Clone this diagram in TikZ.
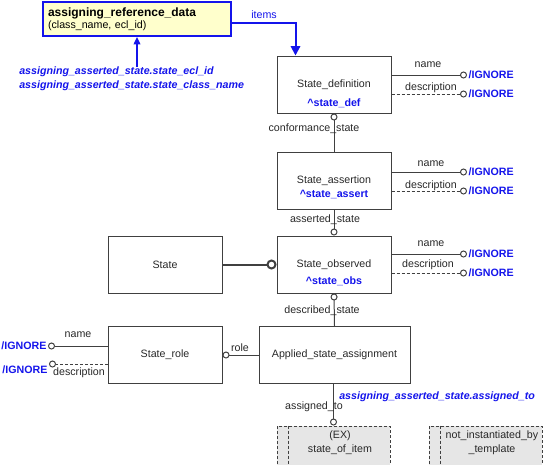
\documentclass[tikz,border=0pt]{standalone}
\usepackage{fontspec}
\setmainfont{Liberation Sans}
\usetikzlibrary{arrows.meta, positioning}
\definecolor{refblue}{RGB}{20,20,235}
\definecolor{refyellow}{RGB}{255,255,204}
\definecolor{boxgray}{RGB}{230,230,230}
\definecolor{linegray}{RGB}{64,64,64}
\definecolor{txtgray}{RGB}{40,40,40}

\begin{document}
\begin{tikzpicture}[x=0.75pt, y=-0.75pt,
  font=\fontsize{8}{9.5}\selectfont,
  ent/.style={draw=linegray, line width=0.75pt, inner sep=0pt, minimum width=85.5pt, minimum height=42.75pt, text=txtgray},
  refbox/.style={draw=refblue, line width=1.5pt, fill=refyellow, inner sep=0pt, minimum width=141pt, minimum height=25.5pt},
  tmpl/.style={draw=linegray, line width=0.75pt, dash pattern=on 2.25pt off 1.5pt, fill=boxgray, inner sep=0pt, minimum width=84.75pt, minimum height=33pt},
  sub/.style={text=refblue, font=\fontsize{8}{9.5}\selectfont\bfseries, inner sep=0pt},
  ign/.style={text=refblue, font=\fontsize{8}{9.5}\selectfont\bfseries, inner sep=1pt},
  attr/.style={text=refblue, font=\fontsize{8}{10.5}\selectfont\bfseries\itshape, inner sep=0pt},
  lbl/.style={text=txtgray, inner sep=0pt},
  rel/.style={draw=linegray, line width=0.75pt},
  opt/.style={rel, dash pattern=on 2.25pt off 1.5pt},
  ring/.style={-{Circle[open, length=5.25pt]}},
  ringback/.style={{Circle[open, length=5.25pt]}-},
  blueline/.style={draw=refblue, line width=1.5pt, -{Triangle[length=7pt, width=7pt]}}]
\clip (0,0) rectangle (560,464);

% reference data
\node[refbox, text width=133.5pt, align=left] (ard) at (137,19)
  {{\fontsize{9}{9}\selectfont\bfseries assigning\_reference\_data}\\[-0.5pt](class\_name, ecl\_id)};
\node[attr, anchor=west, align=left] (attrs) at (19,79)
  {assigning\_asserted\_state.state\_ecl\_id\\assigning\_asserted\_state.state\_class\_name};

% entities
\node[ent] (sdef) at (334,84.5) {State\_definition};
\node[sub] (sdefsub) at (334,103) {\textasciicircum state\_def};
\node[ent] (sassert) at (334,181) {State\_assertion};
\node[sub] (sassertsub) at (334,194) {\textasciicircum state\_assert};
\node[ent] (sobs) at (334,264.5) {State\_observed};
\node[sub] (sobssub) at (334,281) {\textasciicircum state\_obs};
\node[ent] (state) at (165,264.5) {State};
\node[ent] (srole) at (165,355) {State\_role};
\node[ent, minimum width=113.25pt] (asa) at (334.5,355) {Applied\_state\_assignment};

% templates
\node[tmpl] (soi) at (333.5,448) {};
\node[tmpl] (nit) at (485.5,448) {};
\draw[opt] ([xshift=9pt]soi.north west) -- ([xshift=9pt]soi.south west);
\draw[opt] ([xshift=9pt]nit.north west) -- ([xshift=9pt]nit.south west);
\node[lbl, align=center, font=\fontsize{8}{10.5}\selectfont] (soitext) at (340,443) {(EX)\\state\_of\_item};
\node[lbl, align=center, font=\fontsize{8}{10.5}\selectfont] (nittext) at (492,443) {not\_instantiated\_by\\\_template};

% ignored attributes
\node[ign, anchor=west] (i1) at (467,75) {/IGNORE};
\node[ign, anchor=west] (i2) at (467,94) {/IGNORE};
\node[ign, anchor=west] (i3) at (467,172) {/IGNORE};
\node[ign, anchor=west] (i4) at (467,191) {/IGNORE};
\node[ign, anchor=west] (i5) at (467,254) {/IGNORE};
\node[ign, anchor=west] (i6) at (467,273) {/IGNORE};
\node[ign, anchor=east] (j1) at (48,346) {/IGNORE};
\node[ign, anchor=north east] (j2) at (49,364) {/IGNORE};

\draw[rel, ring] (sdef.east |- i1.west) -- (i1.west);
\draw[opt, ring] (sdef.east |- i2.west) -- (i2.west);
\draw[rel, ring] (sassert.east |- i3.west) -- (i3.west);
\draw[opt, ring] (sassert.east |- i4.west) -- (i4.west);
\draw[rel, ring] (sobs.east |- i5.west) -- (i5.west);
\draw[opt, ring] (sobs.east |- i6.west) -- (i6.west);
\draw[rel, ring] (srole.west |- j1.east) -- (j1.east);
\draw[opt, ring] (srole.west |- j2.north east) -- (j2.north east);

\node[lbl] (n1) at (428,65) {name};
\node[lbl] (d1) at (431,88) {description};
\node[lbl] (n2) at (431,164) {name};
\node[lbl] (d2) at (431,186) {description};
\node[lbl] (n3) at (431,244) {name};
\node[lbl] (d3) at (428,265) {description};
\node[lbl] (n4) at (78,335) {name};
\node[lbl] (d4) at (79,373) {description};

% relationships
\draw[rel, ringback] (sdef.south) -- (sassert.north);
\draw[rel, ring] (sassert.south) -- (sobs.north);
\draw[rel, ringback] (sobs.south) -- (asa.north);
\draw[rel, ringback] (srole.east) -- (asa.west);
\draw[rel, ring] (asa.south -| soi.north) -- (soi.north);
\draw[rel, line width=1.5pt, -{Circle[open, length=7.5pt]}] (state.east) -- (sobs.west);
\node[lbl] (conf) at (314,129) {conformance\_state};
\node[lbl] (asst) at (325,220) {asserted\_state};
\node[lbl] (desc) at (322,311) {described\_state};
\node[lbl] (role) at (240,348) {role};
\node[lbl] (asgn) at (314,407) {assigned\_to};
\node[attr, anchor=west] (asgnattr) at (339,397) {assigning\_asserted\_state.assigned\_to};

% mapping arrows
\draw[blueline] ([yshift=-3pt]ard.east) -| ([xshift=14.25pt]sdef.north west);
\node[lbl, text=refblue] (items) at (264,15) {items};
\draw[draw=refblue, line width=1pt, -{Triangle[length=5.5pt, width=5pt]}] (ard.south |- attrs.north) -- (ard.south);
\end{tikzpicture}
\end{document}
